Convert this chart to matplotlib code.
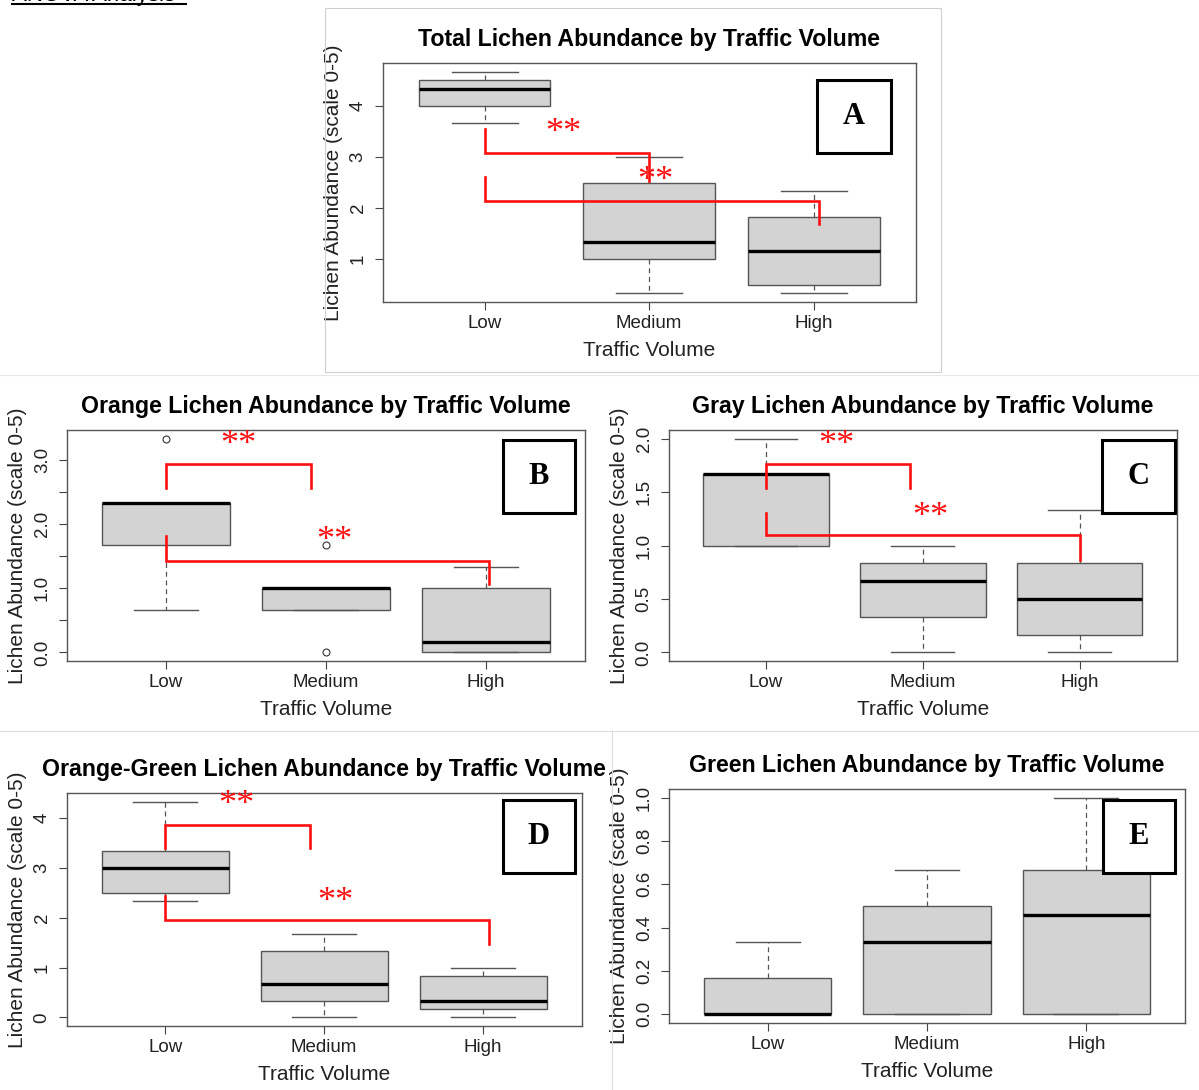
import matplotlib
matplotlib.use("Agg")
import matplotlib.pyplot as plt
from matplotlib.patches import Rectangle
from matplotlib.lines import Line2D

plt.rcParams['font.family'] = ['Liberation Sans', 'DejaVu Sans']

W, H = 1199, 1090

# === Dados ===
niveis = ['Low', 'Medium', 'High']

# A - total
a_whislo = [3.667, 0.333, 0.333]
a_q1 = [4.0, 1.0, 0.5]
a_med = [4.333, 1.333, 1.167]
a_q3 = [4.5, 2.5, 1.833]
a_whishi = [4.667, 3.0, 2.333]
a_fliers = [[], [], []]

# B - orange
b_whislo = [0.667, 0.667, 0.0]
b_q1 = [1.667, 0.667, 0.0]
b_med = [2.333, 1.0, 0.167]
b_q3 = [2.333, 1.0, 1.0]
b_whishi = [2.333, 1.0, 1.333]
b_fliers = [[3.333], [1.667, 0.0], []]

# C - gray
c_whislo = [1.0, 0.0, 0.0]
c_q1 = [1.0, 0.333, 0.167]
c_med = [1.667, 0.667, 0.5]
c_q3 = [1.667, 0.833, 0.833]
c_whishi = [2.0, 1.0, 1.333]
c_fliers = [[], [], []]

# D - orange-green
d_whislo = [2.333, 0.0, 0.0]
d_q1 = [2.5, 0.333, 0.167]
d_med = [3.0, 0.667, 0.333]
d_q3 = [3.333, 1.333, 0.833]
d_whishi = [4.333, 1.667, 1.0]
d_fliers = [[], [], []]

# E - green
e_whislo = [0.0, 0.0, 0.0]
e_q1 = [0.0, 0.0, 0.0]
e_med = [0.0, 0.333, 0.458]
e_q3 = [0.167, 0.5, 0.667]
e_whishi = [0.333, 0.667, 1.0]
e_fliers = [[], [], []]

# colchetes de significância: (x_ini, y_topo, y_barra, x_fim, y_fim)
a_colchetes = [(1, 3.55, 3.08, 2.0, 2.52), (1, 2.61, 2.14, 3.03, 1.68)]
a_estrelas = [(1.48, 3.62), (2.04, 2.68)]
b_colchetes = [(1, 2.56, 2.93, 1.905, 2.56), (1, 1.81, 1.43, 3.02, 1.07)]
b_estrelas = [(1.45, 3.35), (2.05, 1.86)]
c_colchetes = [(1, 1.54, 1.76, 1.92, 1.54), (1, 1.30, 1.095, 3.0, 0.86)]
c_estrelas = [(1.45, 2.01), (2.05, 1.34)]
d_colchetes = [(1, 3.40, 3.87, 1.91, 3.40), (1, 2.43, 1.95, 3.04, 1.47)]
d_estrelas = [(1.45, 4.41), (2.07, 2.48)]


def px(x0, y0, x1, y1):
    return [x0 / W, 1 - y1 / H, (x1 - x0) / W, (y1 - y0) / H]


def monta_stats(whislo, q1, med, q3, whishi, fliers):
    return [dict(whislo=whislo[i], q1=q1[i], med=med[i], q3=q3[i],
                 whishi=whishi[i], fliers=fliers[i], label=niveis[i])
            for i in range(len(niveis))]


def painel(rect, stats, titulo, yticks, ylabels, caixa, letra,
           colchetes=(), estrelas=()):
    ax = fig.add_axes(px(*rect))
    ax.bxp(stats, positions=[1, 2, 3], widths=0.8, capwidths=0.4,
           patch_artist=True,
           boxprops=dict(facecolor='#d3d3d3', edgecolor='#555555', linewidth=1),
           medianprops=dict(color='black', linewidth=2.4, solid_capstyle='butt'),
           whiskerprops=dict(color='#555555', linestyle=(0, (4, 3)), linewidth=0.9),
           capprops=dict(color='#555555', linewidth=1),
           flierprops=dict(marker='o', markerfacecolor='none',
                           markeredgecolor='#333333', markersize=5,
                           markeredgewidth=0.8))
    todos = []
    for s in stats:
        todos += [s['whislo'], s['whishi']] + list(s['fliers'])
    lo, hi = min(todos), max(todos)
    m = 0.04 * (hi - lo)
    ax.set_ylim(lo - m, hi + m)
    ax.set_xlim(0.38, 3.62)
    ax.set_xticks([1, 2, 3], niveis)
    ax.set_yticks(yticks, ylabels)
    ax.tick_params(direction='out', length=5.5, width=0.8, color='#444444',
                   labelsize=13.5, labelcolor='#222222')
    ax.tick_params(axis='x', pad=4)
    ax.tick_params(axis='y', pad=6)
    plt.setp(ax.get_yticklabels(), rotation=90, va='center')
    for sp in ax.spines.values():
        sp.set_color('#555555')
        sp.set_linewidth(1)
    ax.set_title(titulo, fontsize=16.7, fontweight='bold', pad=12)
    ax.set_xlabel('Traffic Volume', fontsize=15, labelpad=6, color='#222222')
    ax.set_ylabel('Lichen Abundance (scale 0-5)', fontsize=15, labelpad=5,
                  color='#222222')

    for x0, yt, yb, x1, yf in colchetes:
        ax.plot([x0, x0, x1, x1], [yt, yb, yb, yf], color='#ff1010', lw=1.9,
                solid_joinstyle='miter', clip_on=False, zorder=6)
    for x, y in estrelas:
        ax.annotate('**', (x, y), xytext=(0, -12), textcoords='offset points',
                    ha='center', va='baseline', color='#ff1010', fontsize=26,
                    family='Liberation Serif', annotation_clip=False, zorder=6)

    r = px(*caixa)
    fig.add_artist(Rectangle((r[0], r[1]), r[2], r[3], transform=fig.transFigure,
                             facecolor='white', edgecolor='black', lw=2.2,
                             zorder=10))
    fig.text(r[0] + r[2] / 2, r[1] + r[3] / 2, letra, ha='center',
             va='center', fontsize=22, fontweight='bold',
             family='Liberation Serif', zorder=11)
    return ax


fig = plt.figure(figsize=(W / 100, H / 100), dpi=100)

# bordas claras dos recortes
fig.add_artist(Rectangle(((325) / W, 1 - 372 / H), (941 - 325) / W, (372 - 8) / H,
                         transform=fig.transFigure, fill=False,
                         edgecolor='#cfcfcf', lw=0.8))
fig.add_artist(Line2D([0, 1], [1 - 375 / H] * 2, transform=fig.transFigure,
                      color='#e8e8e8', lw=0.8))
fig.add_artist(Line2D([0, 1], [1 - 731 / H] * 2, transform=fig.transFigure,
                      color='#dcdcdc', lw=0.8))
fig.add_artist(Line2D([612 / W] * 2, [0, 1 - 731 / H], transform=fig.transFigure,
                      color='#dcdcdc', lw=0.8))

# título cortado no topo (como no original)
fig.text(12 / W, 1 - 1 / H, 'ANOVA Analysis', ha='left', va='baseline',
         fontsize=16, color='black')
fig.add_artist(Line2D([12 / W, 186 / W], [1 - 4 / H] * 2,
                      transform=fig.transFigure, color='black', lw=1.5))

painel((382.6, 63, 915.7, 302),
       monta_stats(a_whislo, a_q1, a_med, a_q3, a_whishi, a_fliers),
       'Total Lichen Abundance by Traffic Volume',
       [1, 2, 3, 4], ['1', '2', '3', '4'],
       (817, 80, 891, 153), 'A', a_colchetes, a_estrelas)

painel((67, 430, 585, 661),
       monta_stats(b_whislo, b_q1, b_med, b_q3, b_whishi, b_fliers),
       'Orange Lichen Abundance by Traffic Volume',
       [0, 0.5, 1, 1.5, 2, 2.5, 3], ['0.0', '', '1.0', '', '2.0', '', '3.0'],
       (503, 440, 575, 513), 'B', b_colchetes, b_estrelas)

painel((668.6, 430, 1177, 661),
       monta_stats(c_whislo, c_q1, c_med, c_q3, c_whishi, c_fliers),
       'Gray Lichen Abundance by Traffic Volume',
       [0, 0.5, 1, 1.5, 2], ['0.0', '0.5', '1.0', '1.5', '2.0'],
       (1102, 440, 1175, 513), 'C', c_colchetes, c_estrelas)

painel((66.7, 793, 581.6, 1026),
       monta_stats(d_whislo, d_q1, d_med, d_q3, d_whishi, d_fliers),
       'Orange-Green Lichen Abundance by Traffic Volume',
       [0, 1, 2, 3, 4], ['0', '1', '2', '3', '4'],
       (503, 800, 575, 873), 'D', d_colchetes, d_estrelas)

painel((669, 789, 1185, 1023),
       monta_stats(e_whislo, e_q1, e_med, e_q3, e_whishi, e_fliers),
       'Green Lichen Abundance by Traffic Volume',
       [0, 0.2, 0.4, 0.6, 0.8, 1.0], ['0.0', '0.2', '0.4', '0.6', '0.8', '1.0'],
       (1103, 800, 1175, 873), 'E')

fig.savefig('out.png', dpi=100)
